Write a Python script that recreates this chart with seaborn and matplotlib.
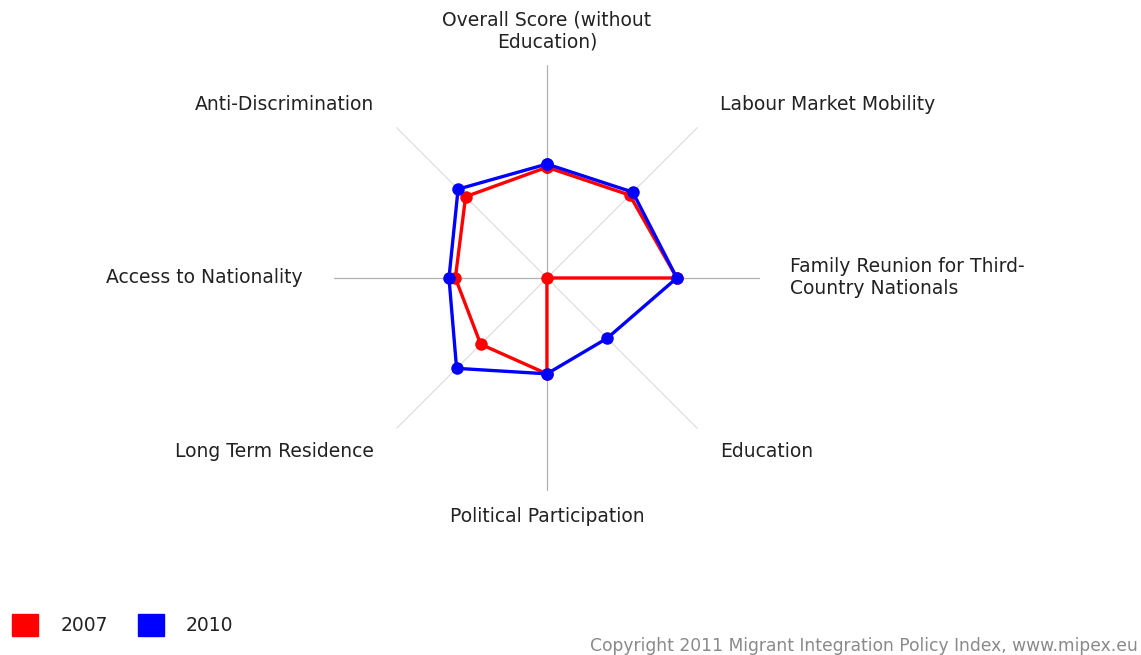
import numpy as np
import pandas as pd
import matplotlib
matplotlib.use("Agg")
import matplotlib.pyplot as plt
from matplotlib.patches import Patch
import seaborn as sns

categories = [
    "Overall Score (without\nEducation)",
    "Labour Market Mobility",
    "Family Reunion for Third-\nCountry Nationals",
    "Education",
    "Political Participation",
    "Long Term Residence",
    "Access to Nationality",
    "Anti-Discrimination",
]
values_2007 = [52, 55, 61, 0, 45, 44, 43, 54]
values_2010 = [53.5, 57, 61, 40, 45, 60, 46, 59]
series_names = ["2007", "2010"]
series_colors = ["#ff0000", "#0000ff"]
copyright_text = "Copyright 2011 Migrant Integration Policy Index, www.mipex.eu"

sns.set_style("white")
plt.rcParams["font.family"] = ["DejaVu Sans"]

n = len(categories)
angles = np.arange(n) * 2 * np.pi / n

rows = []
for name, vals in zip(series_names, [values_2007, values_2010]):
    for i in range(n + 1):
        rows.append({"year": name, "theta": angles[i % n] + (2 * np.pi if i == n else 0),
                     "value": vals[i % n], "order": i})
df = pd.DataFrame(rows)

fig = plt.figure(figsize=(11.41, 6.55), dpi=100)
fig.patch.set_facecolor("white")
ax = fig.add_axes([0.2927, 0.2504, 0.3733, 0.6504], projection="polar")
ax.set_facecolor("none")
ax.set_theta_offset(np.pi / 2)
ax.set_theta_direction(-1)

sns.lineplot(data=df, x="theta", y="value", hue="year", palette=series_colors,
             sort=False, estimator=None, units="year", marker="o", markersize=9,
             markeredgewidth=0, linewidth=2.4, legend=False, ax=ax)

ax.set_ylim(0, 100)
ax.set_yticks([])
ax.set_xticks(angles)
ax.set_xticklabels([])
ax.spines["polar"].set_visible(False)
ax.xaxis.grid(True, linewidth=0.9)
for i, gl in enumerate(ax.xaxis.get_gridlines()):
    gl.set_color("#b0b0b0" if i % 2 == 0 else "#dedede")
    gl.set_zorder(0)
ax.set_axisbelow(True)
ax.set_xlabel("")
ax.set_ylabel("")

label_r = [116, 115, 114, 115, 112, 115, 114.5, 115]
for i, (cat, ang) in enumerate(zip(categories, angles)):
    s = np.sin(ang)
    if abs(s) < 1e-6:
        ha = "center"
    elif s > 0:
        ha = "left"
    else:
        ha = "right"
    ax.text(ang, label_r[i], cat, ha=ha, va="center", fontsize=13.5,
            color="#222222", multialignment="left" if ha == "left" else "center",
            linespacing=1.2)

handles = [Patch(facecolor=c, edgecolor=c) for c in series_colors]
fig.legend(handles, series_names, loc="lower left", bbox_to_anchor=(-0.004, 0.004),
           ncol=2, frameon=False, fontsize=13.5, handlelength=1.39, handleheight=1.39,
           handletextpad=1.17, columnspacing=1.6, labelcolor="#222222")

fig.text(0.997, 0.0, copyright_text, ha="right", va="bottom", fontsize=12.3,
         color="#8a8a8a")

fig.savefig("out.png", dpi=100, facecolor="white")
